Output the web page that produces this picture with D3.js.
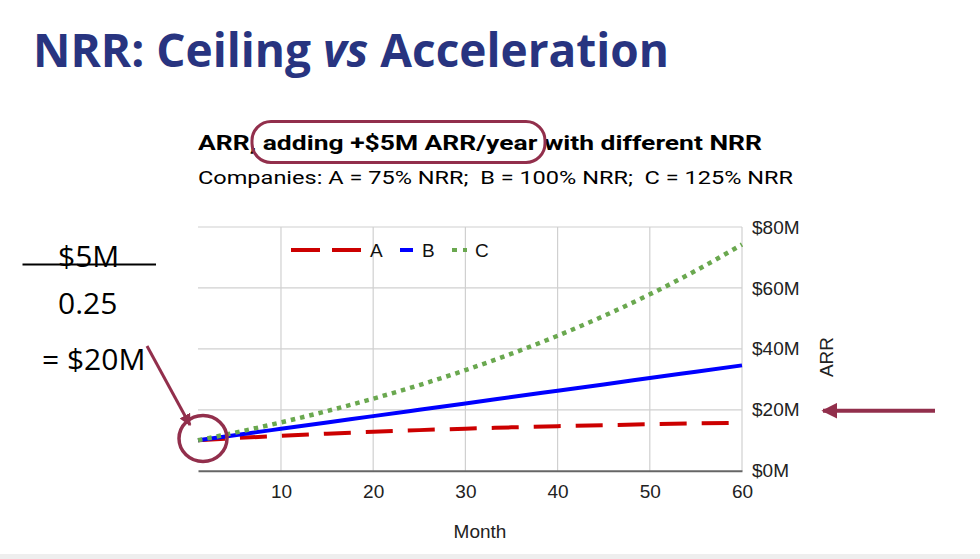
<!DOCTYPE html>
<html><head><meta charset="utf-8">
<script src="https://cdn.jsdelivr.net/npm/d3@7"></script>
<style>
html,body{margin:0;padding:0;background:#fff;}
svg{display:block;}
</style></head>
<body>
<svg id="c" width="980" height="559"></svg>
<script>
// ---- data ----
const months = [1, 5, 10, 15, 20, 25, 30, 35, 40, 45, 50, 55, 60];
const seriesA = [10.0, 10.69, 11.47, 12.16, 12.78, 13.32, 13.80, 14.23, 14.61, 14.95, 15.24, 15.51, 15.74];
const seriesB = [10.0, 11.67, 13.75, 15.83, 17.92, 20.0, 22.08, 24.17, 26.25, 28.33, 30.42, 32.5, 34.58];
const seriesC = [10.0, 12.49, 15.87, 19.58, 23.65, 28.11, 33.02, 38.40, 44.30, 50.78, 57.89, 65.69, 74.26];
const seriesNames = ["A", "B", "C"];
const xTicks = [10, 20, 30, 40, 50, 60];
const yTicks = [0, 20, 40, 60, 80];

const svg = d3.select("#c");
const W = 980, H = 559;
const m = {left: 198, right: 742, top: 227, bottom: 470.7};

// bottom strip
svg.append("rect").attr("x",0).attr("y",554).attr("width",W).attr("height",5).attr("fill","#eeeeee");

// main title
const t = svg.append("text").attr("x",33).attr("y",67)
  .attr("font-family","'Open Sans'").attr("font-weight",700).attr("font-size",46)
  .attr("fill","#283480");
t.append("tspan").text("NRR: Ceiling ");
t.append("tspan").attr("font-style","italic").text("vs");
t.append("tspan").text(" Acceleration");

// chart titles
svg.append("text").attr("x",198).attr("y",149.5)
  .attr("font-family","Roboto").attr("font-weight",700).attr("font-size",21).attr("fill","#000")
  .attr("textLength",564).attr("lengthAdjust","spacingAndGlyphs")
  .text("ARR, adding +$5M ARR/year with different NRR");
svg.append("text").attr("x",198).attr("y",184)
  .attr("font-family","Roboto").attr("font-size",19).attr("fill","#000")
  .attr("xml:space","preserve").style("white-space","pre")
  .attr("textLength",595).attr("lengthAdjust","spacingAndGlyphs")
  .text("Companies: A = 75% NRR;  B = 100% NRR;  C = 125% NRR");

const x = d3.scaleLinear().domain([1, 60]).range([m.left, m.right]);
const y = d3.scaleLinear().domain([0, 80]).range([m.bottom, m.top]);

// gridlines
const g = svg.append("g");
g.selectAll("line.h").data(yTicks.slice(1)).join("line")
  .attr("x1", m.left).attr("x2", m.right).attr("y1", d=>y(d)).attr("y2", d=>y(d))
  .attr("stroke","#d0d0d0").attr("stroke-width",1.2);
g.selectAll("line.v").data(xTicks).join("line")
  .attr("y1", m.top).attr("y2", m.bottom).attr("x1", d=>x(d)).attr("x2", d=>x(d))
  .attr("stroke","#d0d0d0").attr("stroke-width",1.2);

// x axis
const xAxis = svg.append("g").attr("transform",`translate(0,${m.bottom})`)
  .call(d3.axisBottom(x).tickValues(xTicks).tickSize(0).tickPadding(14));
xAxis.select(".domain").attr("stroke","#666").attr("stroke-width",2);
xAxis.selectAll("text").attr("font-family","'Liberation Sans'").attr("font-size",19).attr("fill","#222");

// y axis (right)
const yAxis = svg.append("g").attr("transform",`translate(${m.right},0)`)
  .call(d3.axisRight(y).tickValues(yTicks).tickSize(0).tickPadding(10).tickFormat(d=>"$"+d+"M"));
yAxis.select(".domain").remove();
yAxis.selectAll("text").attr("font-family","'Liberation Sans'").attr("font-size",19).attr("fill","#222");

// axis titles
svg.append("text").attr("x",480).attr("y",538).attr("text-anchor","middle")
  .attr("font-family","'Liberation Sans'").attr("font-size",19).attr("fill","#222").text("Month");
svg.append("text").attr("transform","translate(833,357) rotate(-90)").attr("text-anchor","middle")
  .attr("font-family","'Liberation Sans'").attr("font-size",19).attr("fill","#222").text("ARR");

// lines
const line = d3.line().x((d,i)=>x(months[i])).y(d=>y(d)).curve(d3.curveMonotoneX);
const styles = [
  {data: seriesA, color:"#cc0000", dash:"27,15", width:4},
  {data: seriesB, color:"#0000ff", dash:null, width:4},
  {data: seriesC, color:"#6aa84f", dash:"4.5,5", width:4.5}
];
styles.forEach(s=>{
  svg.append("path").attr("d", line(s.data)).attr("fill","none")
    .attr("stroke", s.color).attr("stroke-width", s.width)
    .attr("stroke-dasharray", s.dash);
});

// legend
const legY = 250;
const leg = [
  {x1:291, x2:361, tx:370},
  {x1:400, x2:413, tx:422},
  {x1:452, x2:467, tx:475}
];
leg.forEach((l,i)=>{
  const s = styles[i];
  svg.append("line").attr("x1",l.x1).attr("x2",l.x2).attr("y1",legY).attr("y2",legY)
    .attr("stroke",s.color).attr("stroke-width",4)
    .attr("stroke-dasharray", i===0 ? "29,12" : (i===2 ? "5,6" : null));
  svg.append("text").attr("x",l.tx).attr("y",legY+7)
    .attr("font-family","'Liberation Sans'").attr("font-size",19).attr("fill","#111")
    .text(seriesNames[i]);
});

// annotations
const maroon = "#922f4c";
svg.append("rect").attr("x",252).attr("y",121.5).attr("width",293).attr("height",41).attr("rx",19)
  .attr("fill","none").attr("stroke",maroon).attr("stroke-width",3);
svg.append("ellipse").attr("cx",203).attr("cy",438.5).attr("rx",24).attr("ry",23)
  .attr("fill","none").attr("stroke",maroon).attr("stroke-width",3.5);

const defs = svg.append("defs");
defs.append("marker").attr("id","ah").attr("viewBox","0 0 10 10").attr("refX",9).attr("refY",5)
  .attr("markerWidth",4).attr("markerHeight",4).attr("orient","auto-start-reverse")
  .attr("markerUnits","strokeWidth")
  .append("path").attr("d","M0,0 L10,5 L0,10 z").attr("fill",maroon);
svg.append("line").attr("x1",147).attr("y1",346).attr("x2",190).attr("y2",425)
  .attr("stroke",maroon).attr("stroke-width",3).attr("marker-end","url(#ah)");
svg.append("line").attr("x1",935).attr("y1",410.7).attr("x2",823).attr("y2",410.7)
  .attr("stroke",maroon).attr("stroke-width",4).attr("marker-end","url(#ah)");

// left formula
const af = "'Open Sans'";
svg.append("text").attr("x",58).attr("y",267).attr("font-family",af).attr("font-size",30).attr("fill","#000").text("$5M");
svg.append("line").attr("x1",22.5).attr("x2",156).attr("y1",264.5).attr("y2",264.5).attr("stroke","#000").attr("stroke-width",2);
svg.append("text").attr("x",58).attr("y",314).attr("font-family",af).attr("font-size",30).attr("fill","#000").text("0.25");
svg.append("text").attr("x",42).attr("y",370).attr("font-family",af).attr("font-size",30).attr("fill","#000").text("= $20M");
</script>
</body></html>
